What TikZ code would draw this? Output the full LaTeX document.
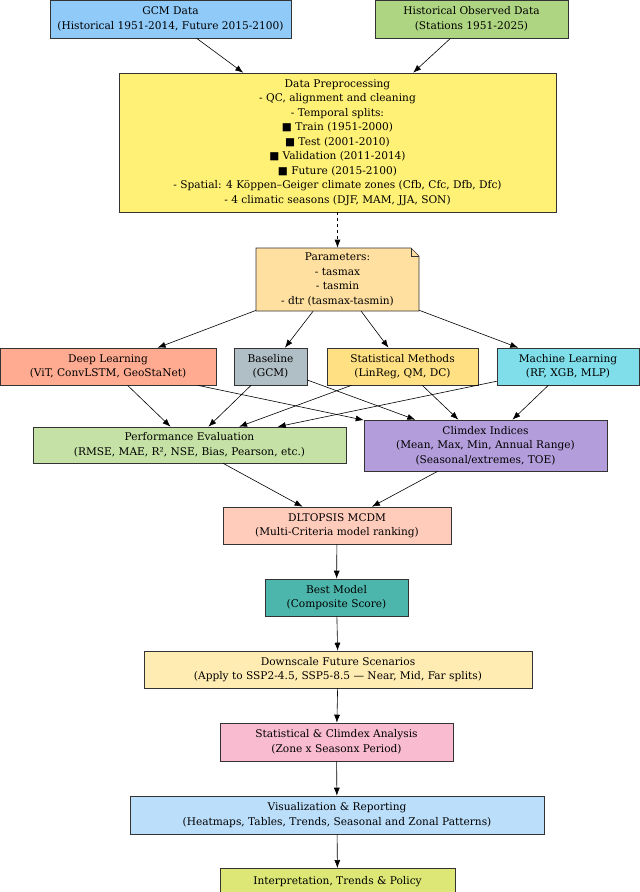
\documentclass[tikz,border=0pt]{standalone}
\usepackage{fontspec}
\setmainfont{DejaVu Serif}
\usetikzlibrary{arrows.meta}
\begin{document}
\begin{tikzpicture}[x=1pt,y=-1pt,
  box/.style={draw=black!80,line width=0.6pt,inner sep=0pt,align=center,font=\fontsize{10.6}{14.5}\selectfont},
  arr/.style={-{Latex[length=8pt,width=6pt]},line width=0.6pt}]
\useasboundingbox (0,0) rectangle (640,892);
\node[box,fill={rgb,255:red,144;green,202;blue,249},minimum width=241,minimum height=38] (gcm) at (170.5,19) {GCM Data\\(Historical 1951-2014, Future 2015-2100)};
\node[box,fill={rgb,255:red,174;green,213;blue,129},minimum width=193,minimum height=38] (obs) at (471.5,19) {Historical Observed Data\\(Stations 1951-2025)};
\node[box,fill={rgb,255:red,255;green,241;blue,118},minimum width=437,minimum height=139] (pre) at (337.5,142.5) {Data Preprocessing\\- QC, alignment and cleaning\\- Temporal splits:\\■ Train (1951-2000)\\■ Test (2001-2010)\\■ Validation (2011-2014)\\■ Future (2015-2100)\\- Spatial: 4 Köppen–Geiger climate zones (Cfb, Cfc, Dfb, Dfc)\\- 4 climatic seasons (DJF, MAM, JJA, SON)};
\draw[line width=0.6pt,draw=black!80,fill={rgb,255:red,255;green,224;blue,160}] (256,248) -- (411,248) -- (419,256) -- (419,311) -- (256,311) -- cycle;
\draw[line width=0.5pt,draw=black!80] (411,248) -- (411,256) -- (419,256);
\node[box,draw=none,minimum width=163,minimum height=63] (par) at (337.5,279.5) {Parameters:\\- tasmax\\- tasmin\\- dtr (tasmax-tasmin)};
\node[box,fill={rgb,255:red,255;green,171;blue,145},minimum width=216,minimum height=37] (dl) at (108,366.5) {Deep Learning\\(ViT, ConvLSTM, GeoStaNet)};
\node[box,fill={rgb,255:red,176;green,190;blue,197},minimum width=73,minimum height=37] (base) at (270.5,366.5) {Baseline\\(GCM)};
\node[box,fill={rgb,255:red,255;green,224;blue,130},minimum width=151,minimum height=37] (stat) at (402.5,366.5) {Statistical Methods\\(LinReg, QM, DC)};
\node[box,fill={rgb,255:red,128;green,222;blue,234},minimum width=142,minimum height=37] (ml) at (568,366.5) {Machine Learning\\(RF, XGB, MLP)};
\node[box,fill={rgb,255:red,197;green,225;blue,165},minimum width=313,minimum height=36] (perf) at (189.5,445) {Performance Evaluation\\(RMSE, MAE, R², NSE, Bias, Pearson, etc.)};
\node[box,fill={rgb,255:red,179;green,157;blue,219},minimum width=243,minimum height=51] (cdx) at (485.5,445.5) {Climdex Indices\\(Mean, Max, Min, Annual Range)\\(Seasonal/extremes, TOE)};
\node[box,fill={rgb,255:red,255;green,204;blue,188},minimum width=228,minimum height=37] (top) at (337,525.5) {DLTOPSIS MCDM\\(Multi-Criteria model ranking)};
\node[box,fill={rgb,255:red,77;green,182;blue,172},minimum width=143,minimum height=37] (best) at (336.5,597.5) {Best Model\\(Composite Score)};
\node[box,fill={rgb,255:red,255;green,236;blue,179},minimum width=388,minimum height=37] (down) at (338,669.5) {Downscale Future Scenarios\\(Apply to SSP2-4.5, SSP5-8.5 — Near, Mid, Far splits)};
\node[box,fill={rgb,255:red,248;green,187;blue,208},minimum width=233,minimum height=38] (sca) at (336.5,742) {Statistical \& Climdex Analysis\\(Zone x Seasonx Period)};
\node[box,fill={rgb,255:red,187;green,222;blue,251},minimum width=414,minimum height=38] (vis) at (337,815) {Visualization \& Reporting\\(Heatmaps, Tables, Trends, Seasonal and Zonal Patterns)};
\node[box,fill={rgb,255:red,220;green,231;blue,117},minimum width=235,minimum height=38,anchor=north] (int) at (337.5,868) {Interpretation, Trends \& Policy\\\phantom{x}};
\draw[arr] (gcm) -- (pre);
\draw[arr] (obs) -- (pre);
\draw[arr,dashed] (pre) -- (par);
\foreach \t in {dl,base,stat,ml} {\draw[arr] (par) -- (\t);}
\foreach \s in {dl,base,stat,ml} {\draw[arr] (\s) -- (perf); \draw[arr] (\s) -- (cdx);}
\draw[arr] (perf) -- (top);
\draw[arr] (cdx) -- (top);
\draw[arr] (top) -- (best);
\draw[arr] (best) -- (down);
\draw[arr] (down) -- (sca);
\draw[arr] (sca) -- (vis);
\draw[arr] (vis) -- (int);
\end{tikzpicture}
\end{document}
